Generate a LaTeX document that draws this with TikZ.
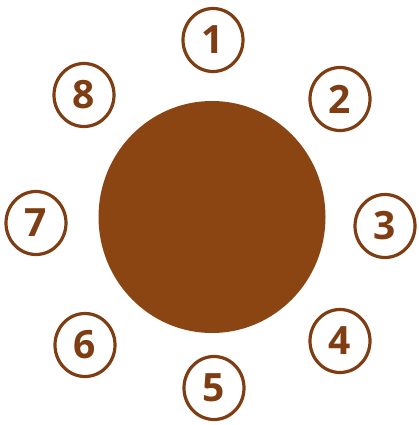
\documentclass[tikz,border=0pt]{standalone}
\usepackage{fontspec}
\setmainfont{Open Sans}
\definecolor{brownfill}{HTML}{8B4513}
\definecolor{brownline}{HTML}{7E3D12}
\usetikzlibrary{shapes.geometric}
\tikzset{
  numcircle/.style={ellipse, draw=brownline, line width=3.2pt, minimum width=60pt, minimum height=63pt, inner sep=0pt,
    text=brownline, font=\fontsize{39}{39}\selectfont\bfseries},
  bigdisc/.style={ellipse, fill=brownfill, minimum width=227pt, minimum height=232pt, inner sep=0pt}
}
\begin{document}
\begin{tikzpicture}[x=1pt,y=-1pt]
\useasboundingbox (0,0) rectangle (418,425);
\node[bigdisc] (c) at (212,217) {};
\node[numcircle] (n1) at (213,40) {1};
\node[numcircle] (n2) at (340,99) {2};
\node[numcircle] (n3) at (385,226) {3};
\node[numcircle] (n4) at (340,341) {4};
\node[numcircle] (n5) at (214,388) {5};
\node[numcircle] (n6) at (85,345) {6};
\node[numcircle] (n7) at (36,223) {7};
\node[numcircle] (n8) at (84,95) {8};
\end{tikzpicture}
\end{document}
